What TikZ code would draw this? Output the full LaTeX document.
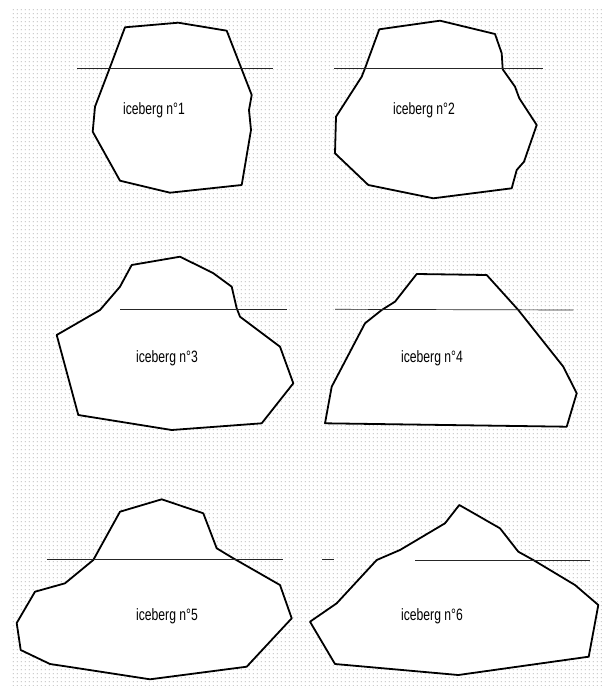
\documentclass[tikz,border=0pt]{standalone}
\usepackage{fontspec}
\usepackage{graphicx}
\setsansfont{Liberation Sans}
\usetikzlibrary{patterns}
\pgfdeclarepatternformonly{sparsedots}{\pgfpointorigin}{\pgfqpoint{4bp}{4bp}}{\pgfqpoint{4bp}{4bp}}{%
  \pgfpathrectangle{\pgfqpoint{1bp}{1bp}}{\pgfqpoint{1.1bp}{1.1bp}}\pgfusepath{fill}}
\tikzset{
  berg/.style={draw=black, line width=1.8bp, fill=white, line join=round},
  water/.style={draw=black!85, line width=0.7bp},
  lbl/.style={font=\sffamily\fontsize{16.5}{16.5}\selectfont, inner sep=0pt}
}
\newcommand{\berglabel}[1]{\scalebox{0.74}[1]{#1}}
\begin{document}
\begin{tikzpicture}[x=1bp,y=-1bp]
\useasboundingbox (0,0) rectangle (602,686);
\fill[white] (0,0) rectangle (602,686);
\fill[pattern=sparsedots, pattern color=black!45] (10,8) rectangle (602,686);

% iceberg 1
\draw[berg] (125,27.3) -- (178.3,22.7) -- (226.7,30.7) -- (251.7,95) -- (249,110) -- (251,130) -- (241.7,185)
  -- (170,192.7) -- (120,180.7) -- (92.7,131.7) -- (95,106.7) -- (109,70) -- cycle;
\draw[water] (77,68.3) -- (273,68.3);
\node[lbl] (l1) at (154,110) {\berglabel{iceberg n°1}};

% iceberg 2
\draw[berg] (379.3,29.3) -- (440,20.7) -- (495,34) -- (501.7,53.3) -- (502.7,69.3) -- (515,86.7) -- (519.3,98.3)
  -- (536.7,125) -- (524,161.7) -- (516.7,170) -- (511.7,188.3) -- (433.3,198.3) -- (368.3,185)
  -- (335,153.3) -- (336,116.7) -- (361.7,76.7) -- (365,68.3) -- cycle;
\draw[water] (334,68.3) -- (542.7,68.3);
\node[lbl] (l2) at (424,110) {\berglabel{iceberg n°2}};

% iceberg 3
\draw[berg] (131.7,265) -- (180,256.7) -- (213,273) -- (231.7,286.7) -- (236.7,308.3) -- (240,316.7) -- (280,346.7)
  -- (293.3,383.3) -- (261.7,423.3) -- (171.7,430) -- (78.3,415) -- (56.7,335) -- (100,310) -- (120,286.7) -- cycle;
\draw[water] (120,309.3) -- (286.7,309.3);
\node[lbl] (l3) at (167,358.3) {\berglabel{iceberg n°3}};

% iceberg 4
\draw[berg] (416.7,274) -- (486.7,275) -- (518.3,310) -- (563.3,366.7) -- (576.7,393.3) -- (566.7,426.7)
  -- (325,423.3) -- (331.7,386.7) -- (365,323.3) -- (381.7,310) -- (395,301.7) -- cycle;
\draw[water] (335,309.3) -- (573.3,310);
\node[lbl] (l4) at (432,358.3) {\berglabel{iceberg n°4}};

% iceberg 5
\draw[berg] (161.7,499.3) -- (203.3,513.3) -- (216.7,548.3) -- (233.3,558.3) -- (280,585) -- (291.7,618.3)
  -- (246.7,666.7) -- (150,679.3) -- (70,667) -- (50,664) -- (20.7,650) -- (16.7,623) -- (35,591.7)
  -- (65,583.3) -- (93.3,560) -- (120,511.7) -- cycle;
\draw[water] (46.7,559) -- (283.3,559);
\node[lbl] (l5) at (167,616) {\berglabel{iceberg n°5}};

% iceberg 6
\draw[berg] (459.3,505) -- (500,528.3) -- (518.3,551.7) -- (533.3,560) -- (575,585) -- (598.3,605)
  -- (588.7,656.7) -- (458.3,675) -- (335,664) -- (310,621.7) -- (336.7,603.3) -- (376.7,560)
  -- (400,550) -- (445,523.3) -- cycle;
\draw[water] (322,559.5) -- (334,559.5);
\draw[water] (415,560) -- (590,560);
\node[lbl] (l6) at (432,616) {\berglabel{iceberg n°6}};
\end{tikzpicture}
\end{document}
